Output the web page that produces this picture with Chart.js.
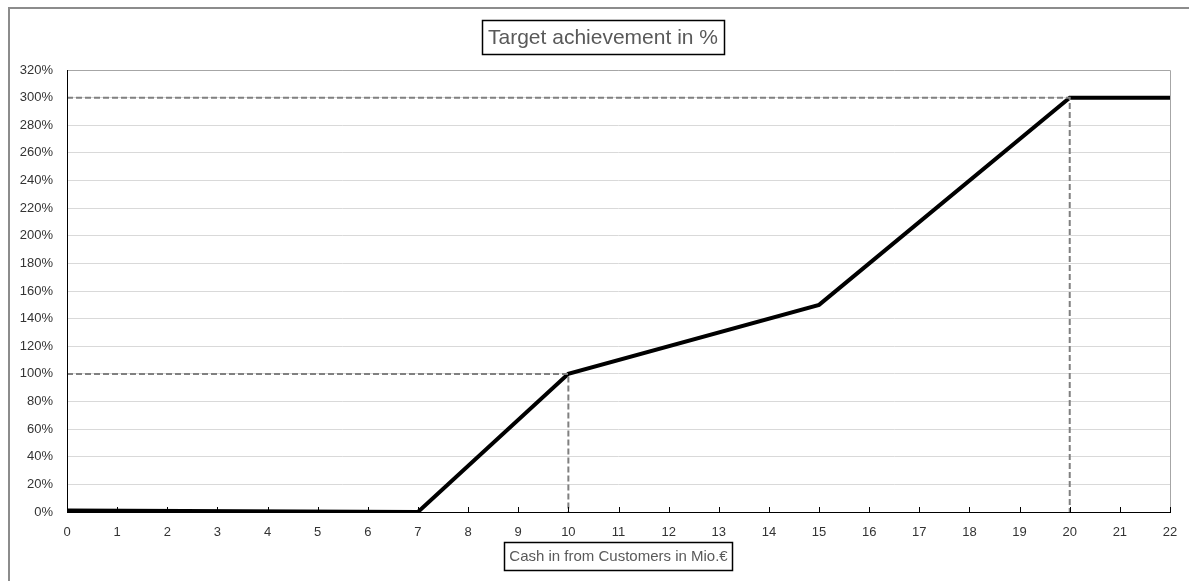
<!DOCTYPE html>
<html>
<head>
<meta charset="utf-8">
<script src="https://cdn.jsdelivr.net/npm/chart.js@4.4.1/dist/chart.umd.min.js"></script>
<style>
  html, body { margin: 0; padding: 0; background: #fff; }
  #wrap { width: 1189px; height: 581px; position: relative; }
</style>
</head>
<body>
<div id="wrap"><canvas id="c" width="1189" height="581"></canvas></div>
<script>
// Payout curve: cash in (Mio. €) vs. target achievement (%)
const cashIn      = [0, 7, 10, 15, 20, 22];
const achievement = [1, 0, 100, 150, 300, 300];

// Reference guides at the 100 % and 300 % thresholds
const guide100X = [0, 10, 10];
const guide100Y = [100, 100, 0];
const guide300X = [0, 20, 20];
const guide300Y = [300, 300, 0];

const xTicks = [0,1,2,3,4,5,6,7,8,9,10,11,12,13,14,15,16,17,18,19,20,21,22];
const yTicks = [0,20,40,60,80,100,120,140,160,180,200,220,240,260,280,300,320];

const chartTitle = 'Target achievement in %';
const xTitle = 'Cash in from Customers in Mio.€';

const FONT = '"Liberation Sans", "DejaVu Sans", sans-serif';

const toPoints = (xs, ys) => xs.map((x, i) => ({ x: x, y: ys[i] }));

// Frame, boxed titles and inward x tick marks
const decorations = {
  id: 'decorations',
  beforeDraw(chart) {
    const ctx = chart.ctx;
    ctx.save();
    ctx.fillStyle = '#ffffff';
    ctx.fillRect(0, 0, chart.width, chart.height);
    ctx.strokeStyle = '#8c8c8c';
    ctx.lineWidth = 2;
    ctx.strokeRect(9, 8, chart.width + 20, chart.height + 20);
    ctx.restore();
  },
  afterDatasetsDraw(chart) {
    const ctx = chart.ctx;
    const area = chart.chartArea;
    const xs = chart.scales.x;
    ctx.save();
    // plot border (top and right)
    ctx.strokeStyle = '#a6a6a6';
    ctx.lineWidth = 1;
    ctx.beginPath();
    ctx.moveTo(area.left, area.top + 0.5);
    ctx.lineTo(area.right + 0.5, area.top + 0.5);
    ctx.lineTo(area.right + 0.5, area.bottom);
    ctx.stroke();
    // axes lines
    ctx.strokeStyle = '#000000';
    ctx.beginPath();
    ctx.moveTo(area.left + 0.5, area.top);
    ctx.lineTo(area.left + 0.5, area.bottom);
    ctx.moveTo(area.left, area.bottom + 0.5);
    ctx.lineTo(area.right + 1, area.bottom + 0.5);
    ctx.stroke();
    // tick marks on x axis
    ctx.beginPath();
    xTicks.forEach(v => {
      const px = Math.round(xs.getPixelForValue(v)) + 0.5;
      ctx.moveTo(px, area.bottom);
      ctx.lineTo(px, area.bottom - 5);
    });
    ctx.stroke();

    const boxed = (text, cx, cy, size, padX, h) => {
      ctx.font = size + 'px ' + FONT;
      ctx.textAlign = 'center';
      ctx.textBaseline = 'middle';
      const w = ctx.measureText(text).width;
      const bx = Math.round(cx - w / 2 - padX) + 0.5;
      const by = Math.round(cy - h / 2) + 0.5;
      const bw = Math.round(w + 2 * padX);
      ctx.fillStyle = '#ffffff';
      ctx.fillRect(bx, by, bw, h);
      ctx.strokeStyle = '#000000';
      ctx.lineWidth = 1.5;
      ctx.strokeRect(bx, by, bw, h);
      ctx.fillStyle = '#595959';
      ctx.fillText(text, cx, cy + 1);
    };
    boxed(chartTitle, 603, 37, 21, 6, 34);
    boxed(xTitle, (area.left + area.right) / 2, 556, 15, 5, 28);
    ctx.restore();
  }
};

new Chart(document.getElementById('c'), {
  type: 'line',
  data: {
    datasets: [
      {
        data: toPoints(guide100X, guide100Y),
        borderColor: '#808080', borderWidth: 2, borderDash: [6, 3],
        pointRadius: 0, fill: false, tension: 0
      },
      {
        data: toPoints(guide300X, guide300Y),
        borderColor: '#808080', borderWidth: 2, borderDash: [6, 3],
        pointRadius: 0, fill: false, tension: 0
      },
      {
        data: toPoints(cashIn, achievement),
        borderColor: '#000000', borderWidth: 4,
        pointRadius: 0, fill: false, tension: 0,
        borderJoinStyle: 'miter', borderCapStyle: 'butt'
      }
    ]
  },
  options: {
    responsive: false,
    animation: false,
    devicePixelRatio: 1,
    layout: { padding: { left: 9, right: 19, top: 70, bottom: 0 } },
    plugins: { legend: { display: false }, tooltip: { enabled: false }, title: { display: false } },
    scales: {
      x: {
        type: 'linear', min: 0, max: 22,
        afterBuildTicks: s => { s.ticks = xTicks.map(v => ({ value: v })); },
        afterFit: s => { s.height = 69; },
        grid: { display: false },
        border: { display: false },
        ticks: {
          color: '#333333', font: { family: FONT, size: 13 }, padding: 5,
          maxRotation: 0, autoSkip: false
        }
      },
      y: {
        type: 'linear', min: 0, max: 320,
        afterBuildTicks: s => { s.ticks = yTicks.map(v => ({ value: v })); },
        afterFit: s => { s.width = 58; },
        grid: { color: '#d9d9d9', lineWidth: 1, drawTicks: false },
        border: { display: false },
        ticks: {
          color: '#333333', font: { family: FONT, size: 13 }, padding: 14,
          callback: v => v + '%'
        }
      }
    }
  },
  plugins: [decorations]
});
</script>
</body>
</html>
